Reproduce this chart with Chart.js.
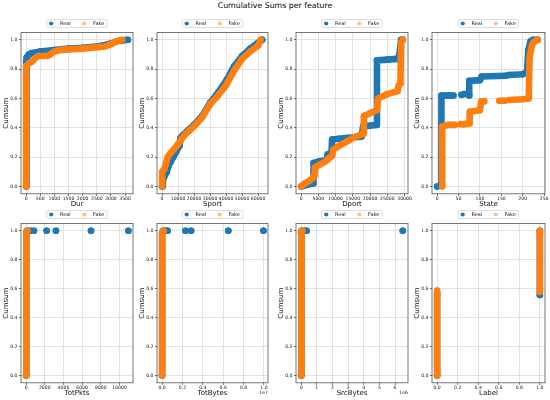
<!DOCTYPE html>
<html>
<head>
<meta charset="utf-8">
<title>Cumulative Sums per feature</title>
<script src="https://cdn.jsdelivr.net/npm/chart.js@4.4.0/dist/chart.umd.min.js"></script>
<style>
body { margin: 0; width: 550px; height: 400px; background: #fff; position: relative; overflow: hidden; font-family: "DejaVu Sans", sans-serif; }
#title { position: absolute; left: 0; top: 0; width: 550px; text-align: center; font-size: 7.8px; line-height: 11px; color: #000; }
canvas { position: absolute; }
#c1 { left: 0px;   top: 9px; }
#c2 { left: 136px; top: 9px; }
#c3 { left: 275px; top: 9px; }
#c4 { left: 411px; top: 9px; }
#c5 { left: 0px;   top: 200px; }
#c6 { left: 136px; top: 200px; }
#c7 { left: 275px; top: 200px; }
#c8 { left: 411px; top: 200px; }
</style>
</head>
<body>
<div id="title">Cumulative Sums per feature</div>
<canvas id="c1" width="139" height="199"></canvas>
<canvas id="c2" width="138" height="199"></canvas>
<canvas id="c3" width="139" height="199"></canvas>
<canvas id="c4" width="140" height="199"></canvas>
<canvas id="c5" width="139" height="197"></canvas>
<canvas id="c6" width="138" height="197"></canvas>
<canvas id="c7" width="139" height="197"></canvas>
<canvas id="c8" width="140" height="197"></canvas>
<script>
/*------------------------------------------------ Data ------------------------------------------------------------------------*/
// [x, cumsum] pairs, null = gap between separate dots
let seriesNames = ["Real", "Fake"]
let yTicks = [0, 0.2, 0.4, 0.6, 0.8, 1.0]

let durReal = [[0,0],[0,0.85],[30,0.88],[100,0.9],[200,0.91],[500,0.92],[1000,0.93],[1500,0.94],[2000,0.945],[2500,0.955],[2800,0.965],[3000,0.975],[3200,0.99],[3400,0.995],[3600,1.0]]
let durFake = [[0,0],[0,0.82],[100,0.84],[200,0.85],[350,0.88],[450,0.89],null,[580,0.89],[750,0.89],[850,0.9],[1000,0.92],[1200,0.93],[1500,0.935],[2000,0.94],[2500,0.95],[2800,0.955],[3000,0.97],[3200,0.99],[3400,1.0]]
let durTicks = [0, 500, 1000, 1500, 2000, 2500, 3000, 3500]

let sportReal = [[0,0],[500,0.04],[1500,0.07],[3000,0.1],[4000,0.14],[5500,0.17],[7000,0.2],[9000,0.24],[11000,0.28],[11500,0.33],[13000,0.35],[16000,0.38],[20000,0.42],[25000,0.48],[30000,0.57],[35000,0.64],[40000,0.72],[45000,0.82],[50000,0.89],[55000,0.94],[60000,0.98],[62500,1.0]]
let sportFake = [[0,0],[0,0.1],[1500,0.12],[2500,0.16],[3500,0.2],[5500,0.23],[8000,0.26],[10000,0.29],[12000,0.32],[14000,0.35],[17000,0.38],[20000,0.41],[25000,0.47],[30000,0.56],[35000,0.62],[40000,0.69],[45000,0.79],[50000,0.87],[55000,0.92],[60000,0.96],[61500,1.0]]
let sportTicks = [0, 10000, 20000, 30000, 40000, 50000, 60000]

let dportReal = [[0,0],[1500,0.01],[3500,0.02],[3600,0.16],[5000,0.17],[7500,0.18],[7700,0.22],[8800,0.23],[9000,0.32],[11000,0.325],[13000,0.33],[17500,0.34],[18000,0.41],[21800,0.42],[22000,0.86],[25000,0.865],[28000,0.87],[28500,0.9],[29000,1.0],[29500,1.0]]
let dportFake = [[0,0],[1000,0.02],[2500,0.04],[3500,0.06],[3900,0.08],[4000,0.13],[5500,0.15],[7000,0.17],[8000,0.19],[9000,0.21],[9300,0.25],[10500,0.27],[12000,0.29],[13500,0.31],[15000,0.33],[17000,0.35],[18000,0.36],[18200,0.48],[20000,0.5],[22000,0.52],[22300,0.6],[25000,0.63],[28000,0.65],[28300,0.69],[28800,0.7],[29000,0.98],[29500,1.0]]
let dportTicks = [0, 5000, 10000, 15000, 20000, 25000, 30000]

let stateReal = [[0,0],null,[10,0.02],[10,0.62],[20,0.62],null,[26,0.62],null,[32,0.62],null,[38,0.62],null,[57,0.625],[63,0.63],null,[75,0.62],[75,0.72],[100,0.725],[104,0.75],[160,0.755],null,[168,0.76],[200,0.765],[210,0.78],[213,0.93],[218,0.99],[224,1.0],[235,1.0]]
let stateFake = [[12,0],[12,0.41],[20,0.415],null,[26,0.42],null,[31,0.42],null,[36,0.42],null,[41,0.42],null,[55,0.425],null,[60,0.425],null,[65,0.425],null,[70,0.43],[75,0.43],[76,0.51],[100,0.52],[103,0.58],[110,0.58],null,[145,0.585],[158,0.585],null,[168,0.59],[200,0.595],[214,0.6],[216,0.88],[222,0.97],[228,0.99],[235,1.0]]
let stateTicks = [0, 50, 100, 150, 200, 250]

let totpktsReal = [[0,0],[0,0.97],[50,0.99],[100,1.0],[250,1.0],null,[480,1.0],null,[840,1.0],null,[2200,1.0],null,[3200,1.0],null,[6950,1.0],null,[10950,1.0]]
let totpktsFake = [[0,0],[0,0.97],[50,0.99],[150,1.0]]
let totpktsTicks = [0, 2000, 4000, 6000, 8000, 10000]

let totbytesReal = [[0,0],[0,0.98],[100000,1.0],[200000,1.0],null,[350000,1.0],null,[550000,1.0],null,[2300000,1.0],null,[2850000,1.0],null,[6500000,1.0],null,[9950000,1.0]]
let totbytesFake = [[0,0],[0,0.98],[50000,0.995],[150000,1.0]]
let totbytesTicks = [0, 2000000, 4000000, 6000000, 8000000, 10000000]

let srcbytesReal = [[0,0],[0,0.99],[50000,1.0],[250000,1.0],null,[350000,1.0],null,[6490000,1.0]]
let srcbytesFake = [[0,0],[0,0.99],[50000,1.0],[80000,1.0]]
let srcbytesTicks = [0, 1000000, 2000000, 3000000, 4000000, 5000000, 6000000]

let labelReal = [[0,0],[0,0.565],null,[1,0.557],[1,1.0]]
let labelFake = [[0,0],[0,0.587],null,[1,0.577],[1,1.0]]
let labelTicks = [0, 0.2, 0.4, 0.6, 0.8, 1.0]

/*------------------------------------------------ Helpers -------------------------------------------------*/
Chart.defaults.font.family = "'DejaVu Sans', sans-serif"
Chart.defaults.color = "#222"

let blue = "#1f77b4"
let orange = "#ff7f0e"
let orangeLight = "rgba(255, 127, 14, 0.5)"

function toPoints(list) {
    return list.map(p => p ? { x: p[0], y: p[1] } : { x: null, y: null })
}

// frame around the plotting box (matplotlib spines)
let boxFrame = {
    id: "boxFrame",
    afterDatasetsDraw(chart) {
        let a = chart.chartArea, c = chart.ctx
        c.save()
        c.strokeStyle = "#555"
        c.lineWidth = 0.8
        c.strokeRect(a.left, a.top, a.right - a.left, a.bottom - a.top)
        c.restore()
    }
}

// light rounded frame around the legend entries
let legendFrame = {
    id: "legendFrame",
    afterDraw(chart) {
        let boxes = chart.legend.legendHitBoxes
        if (!boxes || !boxes.length) return
        let left = Math.min(...boxes.map(b => b.left)) - 3
        let right = Math.max(...boxes.map(b => b.left + b.width)) + 3
        let top = boxes[0].top - 1.5
        let h = boxes[0].height + 3
        let c = chart.ctx
        c.save()
        c.strokeStyle = "#d0d0d0"
        c.lineWidth = 0.7
        c.beginPath()
        c.roundRect(left, top, right - left, h, 1.5)
        c.stroke()
        c.restore()
    }
}

// scale multiplier text ("1e7") under the right end of the x axis
function offsetLabel(text) {
    return {
        id: "offsetLabel",
        afterDraw(chart) {
            if (!text) return
            let a = chart.chartArea, c = chart.ctx
            c.save()
            c.font = "4.6px 'DejaVu Sans'"
            c.fillStyle = "#222"
            c.textAlign = "right"
            c.textBaseline = "middle"
            c.fillText(text, a.right, a.bottom + 9.5)
            c.restore()
        }
    }
}

function drawPanel(id, xName, real, fake, xTicks, xMin, xMax, fmt, offset) {
    var ctx = document.getElementById(id).getContext("2d")
    return new Chart(ctx, {
        type: "scatter",
        data: {
            datasets: [{
                label: seriesNames[0],
                data: toPoints(real),
                order: 1,
                showLine: true,
                borderColor: blue,
                borderWidth: 6.6,
                borderCapStyle: "round",
                borderJoinStyle: "round",
                pointRadius: 3.3,
                pointHoverRadius: 3.3,
                pointBackgroundColor: blue,
                pointBorderWidth: 0,
            }, {
                label: seriesNames[1],
                data: toPoints(fake),
                order: 0,
                showLine: true,
                borderColor: orange,
                borderWidth: 6.6,
                borderCapStyle: "round",
                borderJoinStyle: "round",
                pointRadius: 3.3,
                pointHoverRadius: 3.3,
                pointBackgroundColor: orangeLight,
                pointBorderWidth: 0,
            }]
        },
        options: {
            responsive: false,
            animation: false,
            events: [],
            layout: { padding: { left: 0, right: 6, top: 0, bottom: 0 } },
            plugins: {
                tooltip: { enabled: false },
                legend: {
                    position: "top",
                    fullSize: false,
                    maxHeight: 23.5,
                    labels: {
                        usePointStyle: true,
                        pointStyle: "circle",
                        boxWidth: 3,
                        boxHeight: 3,
                        padding: 12,
                        color: "#222",
                        font: { size: 5 },
                        sort: (a, b) => a.datasetIndex - b.datasetIndex,
                        generateLabels: chart => Chart.defaults.plugins.legend.labels.generateLabels(chart)
                            .map(l => Object.assign(l, { text: "   " + l.text })),
                    },
                },
            },
            scales: {
                x: {
                    type: "linear",
                    min: xMin,
                    max: xMax,
                    afterBuildTicks: s => { s.ticks = xTicks.map(v => ({ value: v })) },
                    afterFit: s => { s.height = 14.2 },
                    ticks: { font: { size: 4.6 }, padding: 0, autoSkip: false, maxRotation: 0, callback: fmt },
                    grid: { color: "#dadada", lineWidth: 0.8, tickLength: 2, tickColor: "#444" },
                    border: { display: false },
                    title: { display: true, text: xName, font: { size: 7 }, padding: 0, color: "#111" },
                },
                y: {
                    min: -0.05,
                    max: 1.05,
                    afterBuildTicks: s => { s.ticks = yTicks.map(v => ({ value: v })) },
                    afterFit: s => { s.width = 21 },
                    ticks: { font: { size: 4.6 }, padding: 1.5, callback: v => v.toFixed(1) },
                    grid: { color: "#dadada", lineWidth: 0.8, tickLength: 2, tickColor: "#444" },
                    border: { display: false },
                    title: { display: true, text: "Cumsum", font: { size: 7 }, padding: { top: 1.5, bottom: 0 }, color: "#111" },
                },
            },
        },
        plugins: [boxFrame, legendFrame, offsetLabel(offset)],
    })
}

/*------------------------------------------------ Draw Charts -------------------------------------------------*/
let plain = v => String(v)
drawPanel("c1", "Dur", durReal, durFake, durTicks, -180, 3780, plain)
drawPanel("c2", "Sport", sportReal, sportFake, sportTicks, -3150, 66150, plain)
drawPanel("c3", "Dport", dportReal, dportFake, dportTicks, -1480, 31000, plain)
drawPanel("c4", "State", stateReal, stateFake, stateTicks, -12, 252, plain)
drawPanel("c5", "TotPkts", totpktsReal, totpktsFake, totpktsTicks, -545, 11445, plain)
drawPanel("c6", "TotBytes", totbytesReal, totbytesFake, totbytesTicks, -495000, 10395000, v => (v / 1e7).toFixed(1), "1e7")
drawPanel("c7", "SrcBytes", srcbytesReal, srcbytesFake, srcbytesTicks, -325000, 6825000, v => String(Math.round(v / 1e6)), "1e6")
drawPanel("c8", "Label", labelReal, labelFake, labelTicks, -0.05, 1.05, v => v.toFixed(1))
</script>
</body>
</html>
